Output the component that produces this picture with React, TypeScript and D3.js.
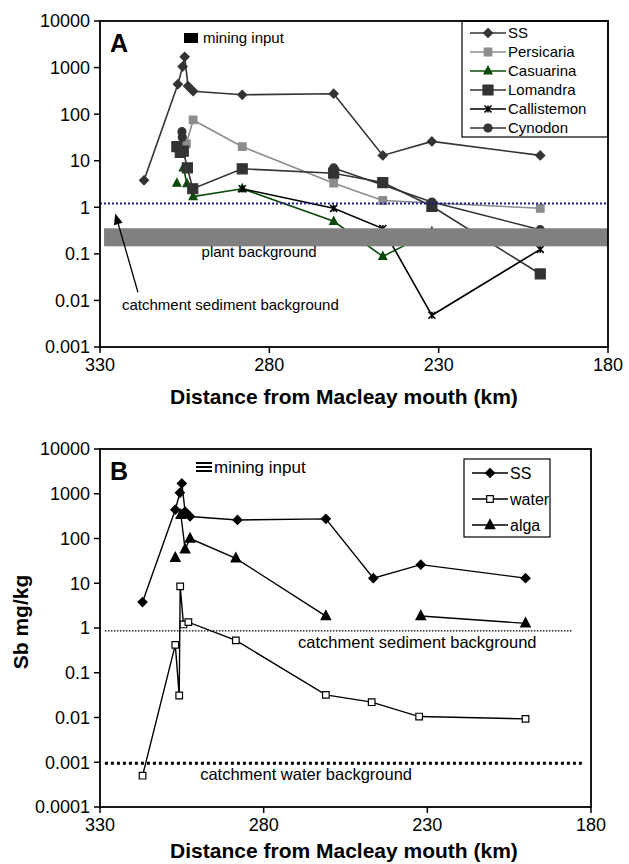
import React, { useEffect, useRef } from "react";
import * as d3 from "d3";

// distance from Macleay mouth (km) and Sb (mg/kg)
const ssKm = [317, 307, 305.6, 305, 304, 302.5, 288, 261, 246.5, 232, 200];
const ssSb = [3.8, 440, 1050, 1700, 400, 310, 260, 275, 13, 26, 13];

const persicariaKm = [304.5, 302.5, 288, 261, 246.5, 200];
const persicariaSb = [23, 75, 20, 3.3, 1.4, 0.95];

const casuarinaKm = [307.3, 306, 305.4, 304.3, 302.5, 288, 261, 246.5, 232];
const casuarinaSb = [3.3, null, 7, 3.2, 1.7, 2.5, 0.5, 0.088, 0.3];

const lomandraKm = [307.3, 306.3, 305.4, 304.2, 302.6, 288, 261, 246.5, 232, 200];
const lomandraSb = [20, 15, 16, 7, 2.5, 6.7, 5.4, 3.4, 1.05, 0.037];

const callistemonKm = [288, 261, 246.5, 232, 200];
const callistemonSb = [2.5, 0.95, 0.35, 0.0048, 0.125];

const cynodonKm = [305.8, 305.7, 290, 261, 232, 200];
const cynodonSb = [42, 32, null, 7, 1.3, 0.33];

const waterKm = [317, 307, 305.8, 305.5, 304.5, 303, 288.5, 261, 247, 232.5, 200];
const waterSb = [0.0005, 0.42, 0.031, 8.5, 1.2, 1.35, 0.53, 0.032, 0.022, 0.0105, 0.0093];

const algaKm = [307, 305.6, 305.3, 304, 302.5, 288.5, 261, 246, 232, 200];
const algaSb = [37, null, 340, 57, 100, 36, 1.85, null, 1.85, 1.27];

const xTicks = [330, 280, 230, 180];
const yTicksA = [0.001, 0.01, 0.1, 1, 10, 100, 1000, 10000];
const yTicksB = [0.0001, 0.001, 0.01, 0.1, 1, 10, 100, 1000, 10000];
const yTickLabels = ["0.0001", "0.001", "0.01", "0.1", "1", "10", "100", "1000", "10000"];

// background levels
const sedimentBgA = 1.2;
const plantBg = [0.145, 0.354];
const sedimentBgB = 0.86;
const waterBg = 0.00095;

const FONT = "'Liberation Sans', Arial, Helvetica, sans-serif";

const markerPath = (type, r) => {
  if (type === "diamond") return `M0,${-r}L${r},0L0,${r}L${-r},0Z`;
  if (type === "square") return `M${-r},${-r}H${r}V${r}H${-r}Z`;
  if (type === "triangle") return `M0,${-r * 1.15}L${r},${r * 0.75}L${-r},${r * 0.75}Z`;
  if (type === "circle") return d3.symbol().type(d3.symbolCircle).size(Math.PI * r * r)();
  if (type === "star") return `M${-r},${-r}L${r},${r}M${-r},${r}L${r},${-r}M0,${-r}V${r}`;
  return "";
};

const seriesA = [
  { name: "SS", km: ssKm, sb: ssSb, color: "#333", fill: "#333", marker: "diamond", r: 4.5 },
  { name: "Persicaria", km: persicariaKm, sb: persicariaSb, color: "#8c8c8c", fill: "#8c8c8c", marker: "square", r: 3.8 },
  { name: "Casuarina", km: casuarinaKm, sb: casuarinaSb, color: "#0b4a0b", fill: "#0b4a0b", marker: "triangle", r: 4 },
  { name: "Lomandra", km: lomandraKm, sb: lomandraSb, color: "#333", fill: "#333", marker: "square", r: 5 },
  { name: "Callistemon", km: callistemonKm, sb: callistemonSb, color: "#000", fill: "none", marker: "star", r: 3.5 },
  { name: "Cynodon", km: cynodonKm, sb: cynodonSb, color: "#333", fill: "#333", marker: "circle", r: 4 },
];

const seriesB = [
  { name: "SS", km: ssKm, sb: ssSb, color: "#000", fill: "#000", marker: "diamond", r: 4.5 },
  { name: "water", km: waterKm, sb: waterSb, color: "#000", fill: "#fff", marker: "square", r: 3.3 },
  { name: "alga", km: algaKm, sb: algaSb, color: "#000", fill: "#000", marker: "triangle", r: 4.8 },
];

const drawSeries = (g, series, x, y, lw) => {
  series.forEach((s) => {
    const pts = s.km.map((k, i) => [k, s.sb[i]]);
    const line = d3
      .line()
      .defined((d) => d[1] != null)
      .x((d) => x(d[0]))
      .y((d) => y(d[1]));
    g.append("path")
      .attr("d", line(pts))
      .attr("fill", "none")
      .attr("stroke", s.color)
      .attr("stroke-width", lw);
    g.append("g")
      .selectAll("path")
      .data(pts.filter((d) => d[1] != null))
      .join("path")
      .attr("transform", (d) => `translate(${x(d[0])},${y(d[1])})`)
      .attr("d", markerPath(s.marker, s.r))
      .attr("fill", s.fill)
      .attr("stroke", s.color)
      .attr("stroke-width", s.marker === "star" ? 1.6 : 1.2);
  });
};

const drawAxes = (g, p, x, y, yTicks, letter, titleOffset) => {
  // frame
  g.append("rect")
    .attr("x", p.left)
    .attr("y", p.top)
    .attr("width", p.right - p.left)
    .attr("height", p.bottom - p.top)
    .attr("fill", "none")
    .attr("stroke", "#000")
    .attr("stroke-width", 1.8);

  const yt = g.append("g").selectAll("g").data(yTicks).join("g");
  yt.append("line")
    .attr("x1", p.left - 6)
    .attr("x2", p.left)
    .attr("y1", (d) => y(d))
    .attr("y2", (d) => y(d))
    .attr("stroke", "#000")
    .attr("stroke-width", 1.5);
  yt.append("text")
    .attr("x", p.left - 10)
    .attr("y", (d) => y(d))
    .attr("dy", "0.36em")
    .attr("text-anchor", "end")
    .attr("font-size", 18)
    .text((d) => yTickLabels[yTicksB.indexOf(d)]);

  const xt = g.append("g").selectAll("g").data(xTicks).join("g");
  xt.append("line")
    .attr("x1", (d) => x(d))
    .attr("x2", (d) => x(d))
    .attr("y1", p.bottom)
    .attr("y2", p.bottom + 6)
    .attr("stroke", "#000")
    .attr("stroke-width", 1.5);
  xt.append("text")
    .attr("x", (d) => x(d))
    .attr("y", p.bottom + 24)
    .attr("text-anchor", "middle")
    .attr("font-size", 18)
    .text((d) => d);

  g.append("text")
    .attr("x", 344)
    .attr("y", p.bottom + titleOffset)
    .attr("text-anchor", "middle")
    .attr("font-size", 21)
    .attr("font-weight", "bold")
    .text("Distance from Macleay mouth (km)");

  g.append("text")
    .attr("x", p.left + 10)
    .attr("y", p.top + 31)
    .attr("font-size", 25)
    .attr("font-weight", "bold")
    .text(letter);
};

const drawLegend = (g, series, box, step, fs) => {
  g.append("rect")
    .attr("x", box.x)
    .attr("y", box.y)
    .attr("width", box.w)
    .attr("height", box.h)
    .attr("fill", "#fff")
    .attr("stroke", "#000")
    .attr("stroke-width", 1.2);
  const it = g
    .append("g")
    .selectAll("g")
    .data(series)
    .join("g")
    .attr("transform", (d, i) => `translate(${box.x + 8},${box.y + box.first + i * step})`);
  it.append("line")
    .attr("x1", 0)
    .attr("x2", 36)
    .attr("stroke", (d) => d.color)
    .attr("stroke-width", 1.6);
  it.append("path")
    .attr("transform", "translate(18,0)")
    .attr("d", (d) => markerPath(d.marker, d.r))
    .attr("fill", (d) => d.fill)
    .attr("stroke", (d) => d.color)
    .attr("stroke-width", (d) => (d.marker === "star" ? 1.6 : 1.2));
  it.append("text")
    .attr("x", 38)
    .attr("dy", "0.36em")
    .attr("font-size", fs)
    .text((d) => d.name);
};

export default function App() {
  const ref = useRef(null);

  useEffect(() => {
    const svg = d3.select(ref.current);
    svg.selectAll("*").remove();

    // ---------- panel A ----------
    const pA = { left: 100, right: 608, top: 21, bottom: 347 };
    const xA = d3.scaleLinear().domain([330, 180]).range([pA.left, pA.right]);
    const yA = d3.scaleLog().domain([0.001, 10000]).range([pA.bottom, pA.top]);
    const gA = svg.append("g");

    drawSeries(gA, seriesA, xA, yA, 1.6);

    gA.append("rect")
      .attr("x", xA(328.8))
      .attr("y", yA(plantBg[1]))
      .attr("width", xA(180) - xA(328.8))
      .attr("height", yA(plantBg[0]) - yA(plantBg[1]))
      .attr("fill", "#808080");

    gA.append("line")
      .attr("x1", pA.left)
      .attr("x2", pA.right)
      .attr("y1", yA(sedimentBgA))
      .attr("y2", yA(sedimentBgA))
      .attr("stroke", "#1a1a8c")
      .attr("stroke-width", 2)
      .attr("stroke-dasharray", "2,2");

    gA.append("text")
      .attr("x", xA(300))
      .attr("y", yA(0.085))
      .attr("font-size", 15)
      .text("plant background");

    gA.append("text")
      .attr("x", xA(323.5))
      .attr("y", yA(0.0062))
      .attr("font-size", 15)
      .text("catchment sediment background");

    // arrow to the sediment background line
    const ax0 = xA(318.8), ay0 = yA(0.015);
    const ax1 = xA(325.5), ay1 = yA(0.74);
    const ang = Math.atan2(ay1 - ay0, ax1 - ax0);
    const hl = 11, hw = 4.5;
    const bx = ax1 - hl * Math.cos(ang), by = ay1 - hl * Math.sin(ang);
    gA.append("line")
      .attr("x1", ax0)
      .attr("y1", ay0)
      .attr("x2", bx)
      .attr("y2", by)
      .attr("stroke", "#000")
      .attr("stroke-width", 1.3);
    gA.append("path")
      .attr(
        "d",
        `M${ax1},${ay1}L${bx + hw * Math.sin(ang)},${by - hw * Math.cos(ang)}L${bx - hw * Math.sin(ang)},${by + hw * Math.cos(ang)}Z`
      )
      .attr("fill", "#000");

    // mining input marker
    gA.append("rect").attr("x", 184).attr("y", 33).attr("width", 14).attr("height", 10).attr("fill", "#000");
    gA.append("text").attr("x", 203).attr("y", 43).attr("font-size", 15).text("mining input");

    drawLegend(gA, seriesA, { x: 462, y: 21, w: 146, h: 116, first: 12 }, 19, 15);
    drawAxes(gA, pA, xA, yA, yTicksA, "A", 57);

    // ---------- panel B ----------
    const pB = { left: 100, right: 591, top: 449, bottom: 807 };
    const xB = d3.scaleLinear().domain([330, 180]).range([pB.left, pB.right]);
    const yB = d3.scaleLog().domain([0.0001, 10000]).range([pB.bottom, pB.top]);
    const gB = svg.append("g");

    gB.append("line")
      .attr("x1", xB(328.5))
      .attr("x2", xB(185.5))
      .attr("y1", yB(sedimentBgB))
      .attr("y2", yB(sedimentBgB))
      .attr("stroke", "#000")
      .attr("stroke-width", 1.2)
      .attr("stroke-dasharray", "1.5,1.5");
    gB.append("line")
      .attr("x1", xB(328.5))
      .attr("x2", xB(182.8))
      .attr("y1", yB(waterBg))
      .attr("y2", yB(waterBg))
      .attr("stroke", "#000")
      .attr("stroke-width", 3)
      .attr("stroke-dasharray", "3,3");

    drawSeries(gB, seriesB, xB, yB, 1.4);

    gB.append("text")
      .attr("x", xB(269.5))
      .attr("y", yB(0.36))
      .attr("font-size", 16.5)
      .text("catchment sediment background");
    gB.append("text")
      .attr("x", xB(299.4))
      .attr("y", yB(0.0004))
      .attr("font-size", 16.5)
      .text("catchment water background");

    // mining input marker (striped)
    [463, 467, 471].forEach((yy) =>
      gB.append("line").attr("x1", 196).attr("x2", 212).attr("y1", yy).attr("y2", yy).attr("stroke", "#000").attr("stroke-width", 2)
    );
    gB.append("text").attr("x", 214).attr("y", 473).attr("font-size", 17).text("mining input");

    drawLegend(gB, seriesB, { x: 464, y: 459, w: 86, h: 78, first: 14 }, 26, 16);
    drawAxes(gB, pB, xB, yB, yTicksB, "B", 51);

    gB.append("text")
      .attr("transform", "translate(28,622) rotate(-90)")
      .attr("text-anchor", "middle")
      .attr("font-size", 21)
      .attr("font-weight", "bold")
      .text("Sb mg/kg");
  }, []);

  return (
    <svg
      ref={ref}
      width={629}
      height={864}
      style={{ position: "absolute", left: 0, top: 0, background: "#fff", fontFamily: FONT }}
    />
  );
}
